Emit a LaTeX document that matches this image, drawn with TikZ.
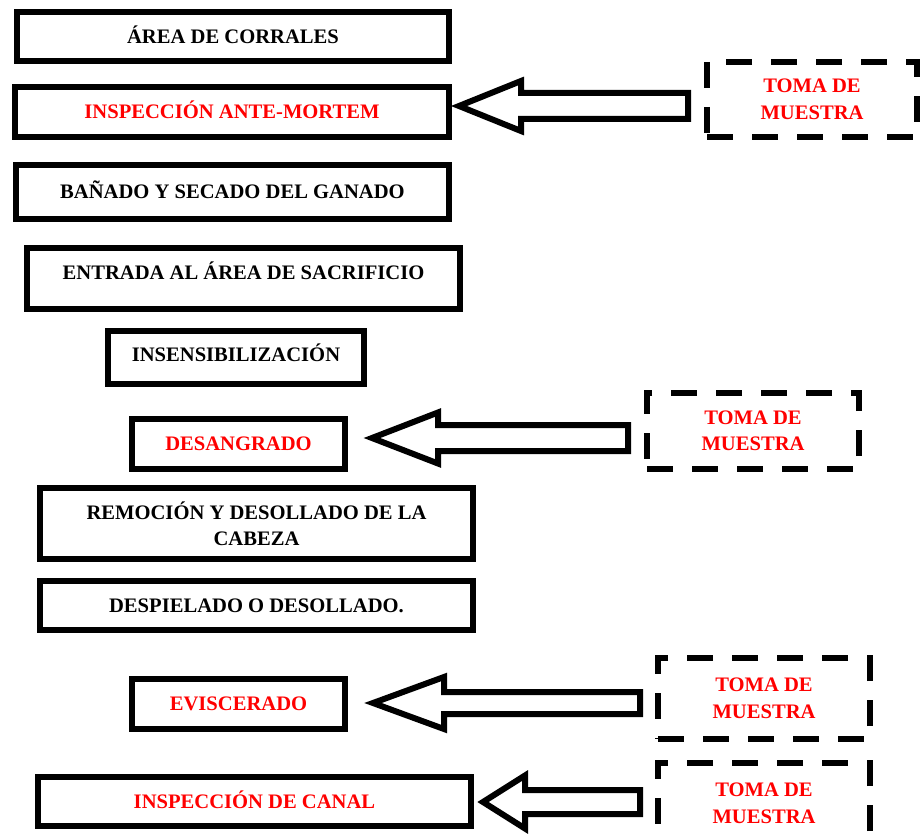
\documentclass[tikz,border=0pt]{standalone}
\usepackage{fontspec}
\setmainfont{Liberation Serif}
\usetikzlibrary{calc}
\newcommand\blockarrow[5]{\draw[arr] (#1) -- ++(#2,-#3) -- ++(0,#3-#4) -- ++(#5-#2,0) -- ++(0,2*#4) -- ++(#2-#5,0) -- ++(0,#3-#4) -- cycle;}
\begin{document}
\begin{tikzpicture}[x=1pt,y=-1pt,
  box/.style={draw, line width=6pt, inner sep=0pt, align=center, font=\bfseries\fontsize{20.6}{26}\selectfont},
  one/.style={text height=13.6pt, text depth=0pt},
  redtxt/.style={text=red},
  toma/.style={draw, line width=6pt, dash pattern=on 26pt off 19pt, inner sep=0pt, align=center, text=red, font=\bfseries\fontsize{20.6}{26.5}\selectfont, minimum width=212pt},
  arr/.style={draw, line width=6pt, line join=miter, fill=white}]
\useasboundingbox (0,0) rectangle (920,834);
% process boxes
\node[box, one, minimum width=432pt, minimum height=49pt] (b1) at (233,36.5) {ÁREA DE CORRALES};
\node[box, one, redtxt, minimum width=434pt, minimum height=50pt] (b2) at (232,112) {INSPECCIÓN ANTE-MORTEM};
\node[box, text height=13.6pt, text depth=0pt, minimum width=433pt, minimum height=54pt] (b3) at (232.5,192) {BAÑADO Y SECADO DEL GANADO};
\node[box, text height=13.6pt, text depth=12pt, minimum width=433pt, minimum height=61pt] (b4) at (243.5,278.5) {ENTRADA AL ÁREA DE SACRIFICIO};
\node[box, text height=13.6pt, text depth=5pt, minimum width=256pt, minimum height=53pt] (b5) at (236,357.5) {INSENSIBILIZACIÓN};
\node[box, one, redtxt, minimum width=213pt, minimum height=50pt] (b6) at (238.5,444) {DESANGRADO};
\node[box, minimum width=433pt, minimum height=71pt] (b7) at (256.5,523.5) {REMOCIÓN Y DESOLLADO DE LA\\CABEZA};
\node[box, one, minimum width=433pt, minimum height=49pt] (b8) at (256.5,605.5) {DESPIELADO O DESOLLADO.};
\node[box, one, redtxt, minimum width=213pt, minimum height=50pt] (b9) at (238.5,704) {EVISCERADO};
\node[box, one, redtxt, minimum width=433pt, minimum height=49pt] (b10) at (254.5,801.5) {INSPECCIÓN DE CANAL};
% sampling boxes
\node[toma, minimum width=210pt, minimum height=75pt] (d1) at (812,99.5) {TOMA DE\\MUESTRA};
\node[toma, minimum height=76pt] (d2) at (753,431) {TOMA DE\\MUESTRA};
\node[toma, minimum height=81pt] (d3) at (764,698.5) {TOMA DE\\MUESTRA};
\node[toma, minimum height=81pt] (d4) at (764,803.5) {TOMA DE\\MUESTRA};
% arrow tips
\coordinate (a1) at ($(b2.east)+(7,-6)$);
\coordinate (a2) at ($(b6.east)+(24,-6)$);
\coordinate (a3) at ($(b9.east)+(25,-1)$);
\coordinate (a4) at ($(b10.east)+(9,0.5)$);
\blockarrow{a1}{62}{25}{13}{229}
\blockarrow{a2}{66}{25.5}{13}{256}
\blockarrow{a3}{71}{26}{11}{267}
\blockarrow{a4}{42}{26.5}{12}{157}
\end{tikzpicture}
\end{document}
